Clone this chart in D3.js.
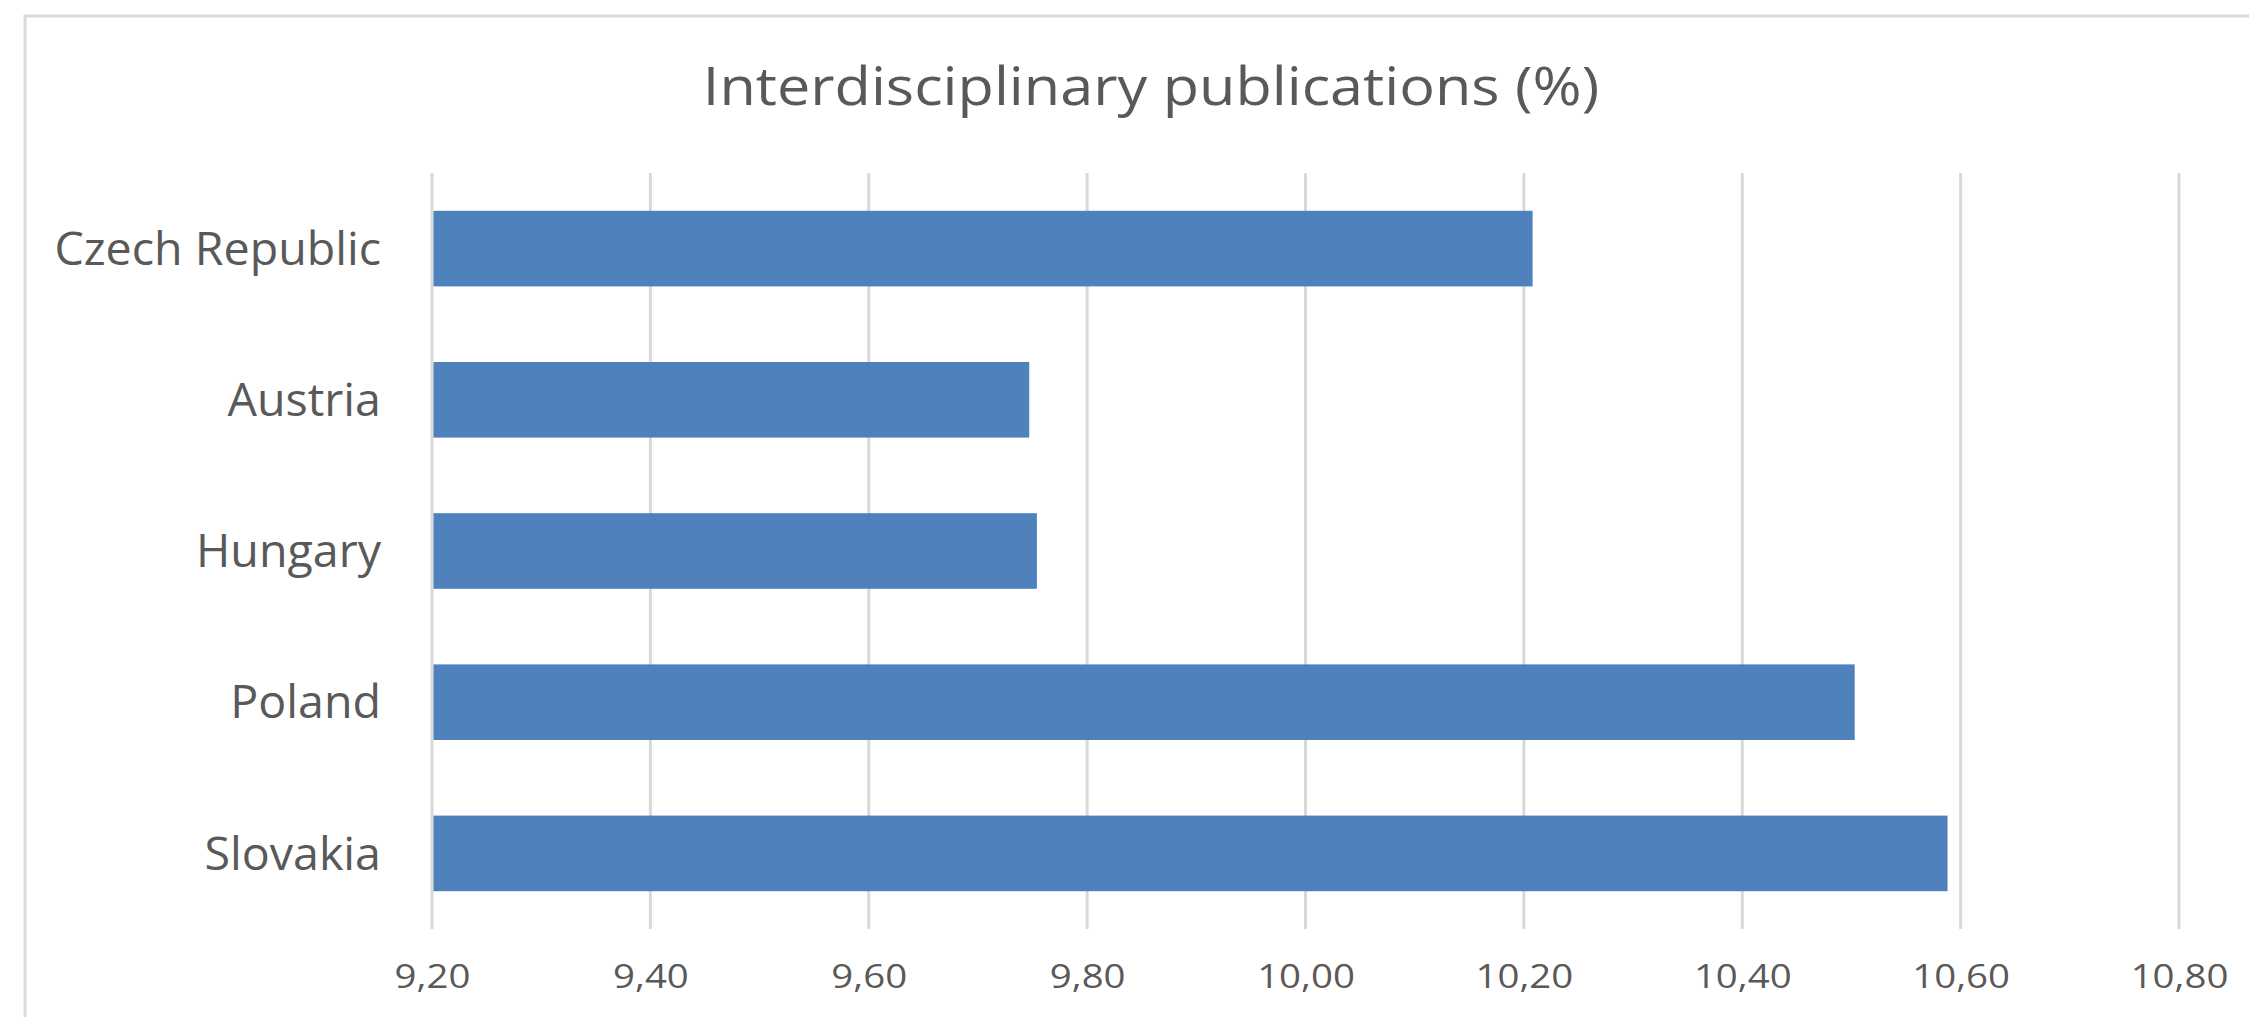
<!DOCTYPE html>
<html>
<head>
<meta charset="utf-8">
<script src="https://cdn.jsdelivr.net/npm/d3@7"></script>
<style>
  html, body { margin: 0; padding: 0; background: #ffffff; }
  svg { display: block; }
  text { font-family: "Open Sans", "Noto Sans", sans-serif; fill: #595959; }
</style>
</head>
<body>
<svg id="chart" width="2249" height="1017"></svg>
<script>
// ---- data ----
const title = "Interdisciplinary publications (%)";
const countries = ["Czech Republic", "Austria", "Hungary", "Poland", "Slovakia"];
const values = [10.208, 9.747, 9.754, 10.503, 10.588];
const tickValues = [9.2, 9.4, 9.6, 9.8, 10.0, 10.2, 10.4, 10.6, 10.8];
const xDomain = [9.2, 10.8];

// ---- layout ----
const W = 2249, H = 1017;
const plot = { left: 432, right: 2179, top: 173, bottom: 929 };

const svg = d3.select("#chart");

// stretch text horizontally by a factor (reference text is wider than the font)
function stretch(sel, factor) {
  sel.each(function () {
    const n = this.getComputedTextLength();
    d3.select(this)
      .attr("textLength", n * factor)
      .attr("lengthAdjust", "spacingAndGlyphs");
  });
}

// frame border (cropped at right and bottom)
svg.append("rect")
  .attr("x", 25).attr("y", 16)
  .attr("width", W + 40).attr("height", H + 40)
  .attr("fill", "#ffffff")
  .attr("stroke", "#d9d9d9").attr("stroke-width", 3);

const x = d3.scaleLinear().domain(xDomain).range([plot.left, plot.right]);
const y = d3.scaleBand().domain(countries)
  .range([plot.top, plot.bottom])
  .paddingInner(0.5).paddingOuter(0.25);

// gridlines
svg.append("g").selectAll("line")
  .data(tickValues)
  .join("line")
  .attr("x1", d => x(d)).attr("x2", d => x(d))
  .attr("y1", plot.top).attr("y2", plot.bottom)
  .attr("stroke", "#d9d9d9").attr("stroke-width", 3);

// bars
svg.append("g").selectAll("rect")
  .data(countries.map((c, i) => ({ c, v: values[i] })))
  .join("rect")
  .attr("x", x(xDomain[0]) + 1.5)
  .attr("y", d => y(d.c))
  .attr("width", d => x(d.v) - x(xDomain[0]) - 1.5)
  .attr("height", y.bandwidth())
  .attr("fill", "#4f81bd");

// x-axis tick labels
const fmt = d => d.toFixed(2).replace(".", ",");
const xAxis = d3.axisBottom(x).tickValues(tickValues).tickFormat(fmt).tickSize(0).tickPadding(0);
const gx = svg.append("g").attr("transform", `translate(0,${plot.bottom})`).call(xAxis);
gx.select(".domain").remove();
gx.selectAll("text")
  .attr("y", 59).attr("dy", null)
  .attr("font-size", 32)
  .attr("font-family", "\"Open Sans\", \"Noto Sans\", sans-serif")
  .attr("fill", "#595959")
  .call(stretch, 1.2);

// y-axis category labels
const yAxis = d3.axisLeft(y).tickSize(0).tickPadding(0);
const gy = svg.append("g").attr("transform", `translate(381,0)`).call(yAxis);
gy.select(".domain").remove();
gy.selectAll("text")
  .attr("x", 0).attr("dy", "0.36em")
  .attr("font-size", 45)
  .attr("font-family", "\"Open Sans\", \"Noto Sans\", sans-serif")
  .attr("fill", "#595959")
  .call(stretch, 1.035);

// title
svg.append("text")
  .attr("x", 1151).attr("y", 105)
  .attr("text-anchor", "middle")
  .attr("font-size", 53)
  .text(title)
  .call(stretch, 1.12);
</script>
</body>
</html>
